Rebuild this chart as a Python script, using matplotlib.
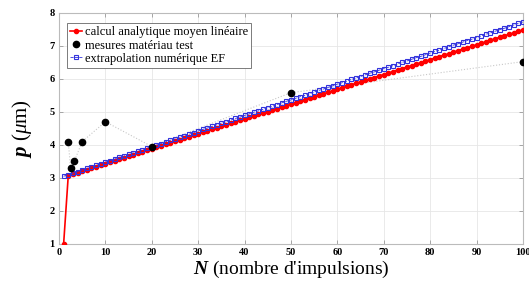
import numpy as np
import matplotlib
matplotlib.use("Agg")
import matplotlib.pyplot as plt

# calcul analytique moyen linéaire (N = 1..100)
n_calc = list(range(1, 101))
p_calc = [1.00,
          3.07, 3.12, 3.16, 3.21, 3.25, 3.30, 3.34, 3.39, 3.43, 3.48,
          3.52, 3.57, 3.61, 3.66, 3.70, 3.75, 3.79, 3.84, 3.88, 3.93,
          3.97, 4.02, 4.06, 4.11, 4.15, 4.20, 4.24, 4.29, 4.33, 4.38,
          4.42, 4.47, 4.51, 4.56, 4.60, 4.65, 4.69, 4.74, 4.78, 4.83,
          4.87, 4.92, 4.96, 5.01, 5.05, 5.10, 5.14, 5.19, 5.23, 5.28,
          5.32, 5.37, 5.41, 5.46, 5.50, 5.55, 5.59, 5.64, 5.68, 5.73,
          5.77, 5.82, 5.86, 5.91, 5.95, 6.00, 6.04, 6.09, 6.13, 6.18,
          6.22, 6.27, 6.31, 6.36, 6.40, 6.45, 6.49, 6.54, 6.58, 6.63,
          6.67, 6.72, 6.76, 6.81, 6.85, 6.90, 6.94, 6.99, 7.03, 7.08,
          7.12, 7.17, 7.21, 7.26, 7.30, 7.35, 7.39, 7.44, 7.48]

# mesures matériau test
n_mes = [2, 2.5, 3.3, 5, 10, 20, 50, 100]
p_mes = [4.10, 3.30, 3.50, 4.10, 4.70, 3.95, 5.58, 6.52]

# extrapolation numérique EF (N = 1..100)
n_ef = list(range(1, 101))
p_ef = [3.05, 3.10, 3.14, 3.19, 3.24, 3.29, 3.33, 3.38, 3.43, 3.48,
        3.52, 3.57, 3.62, 3.66, 3.71, 3.76, 3.81, 3.85, 3.90, 3.95,
        3.99, 4.04, 4.09, 4.14, 4.18, 4.23, 4.28, 4.32, 4.37, 4.42,
        4.47, 4.51, 4.56, 4.61, 4.66, 4.70, 4.75, 4.80, 4.84, 4.89,
        4.94, 4.99, 5.03, 5.08, 5.13, 5.17, 5.22, 5.27, 5.32, 5.36,
        5.41, 5.46, 5.50, 5.55, 5.60, 5.65, 5.69, 5.74, 5.79, 5.84,
        5.88, 5.93, 5.98, 6.02, 6.07, 6.12, 6.17, 6.21, 6.26, 6.31,
        6.35, 6.40, 6.45, 6.50, 6.54, 6.59, 6.64, 6.68, 6.73, 6.78,
        6.83, 6.87, 6.92, 6.97, 7.02, 7.06, 7.11, 7.16, 7.20, 7.25,
        7.30, 7.35, 7.39, 7.44, 7.49, 7.53, 7.58, 7.63, 7.68, 7.72]

plt.rcParams['font.family'] = ['Liberation Serif', 'DejaVu Serif']
plt.rcParams['mathtext.fontset'] = 'custom'
plt.rcParams['mathtext.rm'] = 'Liberation Serif'
plt.rcParams['mathtext.it'] = 'Liberation Serif:italic'
plt.rcParams['mathtext.bf'] = 'Liberation Serif:bold'
plt.rcParams['mathtext.bfit'] = 'Liberation Serif:italic:bold'

fig = plt.figure(figsize=(5.29, 2.84), dpi=100)
ax = fig.add_axes([0.1115, 0.141, 0.877, 0.814])

h_calc, = ax.plot(n_calc, p_calc, '-', color='red', marker='o', markersize=3.0,
                  linewidth=1.2, label='calcul analytique moyen linéaire', zorder=3)
h_ef, = ax.plot(n_ef, p_ef, '--', color='#3333dd', marker='s', markersize=2.5,
                markerfacecolor='none', markeredgewidth=0.8, linewidth=0.6,
                label='extrapolation numérique EF', zorder=4)
ax.plot(n_mes, p_mes, ':', color='#c8c8c8', linewidth=0.8, zorder=2)
h_mes, = ax.plot(n_mes, p_mes, 'o', color='black', markersize=4.5,
                 linestyle='none', label='mesures matériau test', zorder=5)

ax.set_xlim(0, 100)
ax.set_ylim(1, 8)
ax.set_xticks(np.arange(0, 101, 10))
ax.set_yticks(np.arange(1, 9, 1))
ax.grid(True, color='#e6e6e6', linewidth=0.6)
ax.set_axisbelow(True)
ax.tick_params(direction='in', length=3, width=0.6, color='#999999',
               top=True, right=True, labelsize=7.5, pad=3)
for lab in ax.get_xticklabels() + ax.get_yticklabels():
    lab.set_fontweight('bold')
for sp in ax.spines.values():
    sp.set_color('#bbbbbb')
    sp.set_linewidth(0.8)

ax.set_xlabel(r'$\mathbfit{N}$' + " (nombre d'impulsions)", fontsize=14, labelpad=1)
ax.set_ylabel(r'$\mathbfit{p}$ ($\mathit{\mu}$m)', fontsize=15, labelpad=11)

leg = ax.legend(handles=[h_calc, h_mes, h_ef], loc='upper left',
                bbox_to_anchor=(0.017, 0.955), fontsize=9, frameon=True,
                fancybox=False, edgecolor='#666666', framealpha=1,
                borderpad=0.25, handlelength=1.0, handletextpad=0.2,
                labelspacing=0.1, borderaxespad=0)
leg.get_frame().set_linewidth(0.6)

fig.savefig('out.png', dpi=100)
